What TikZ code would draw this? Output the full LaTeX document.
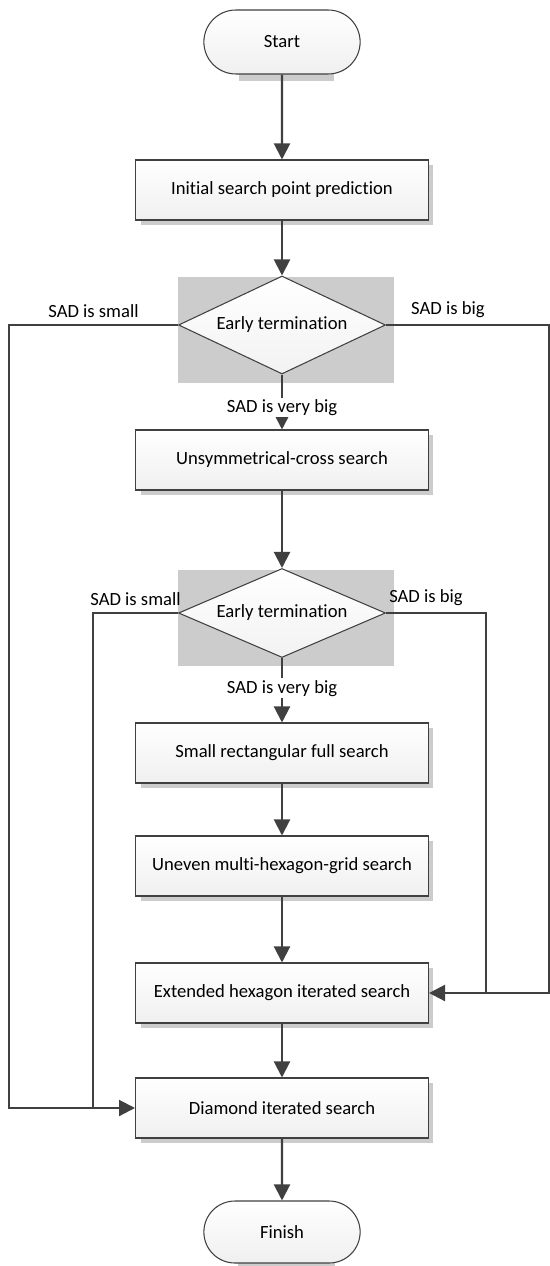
\documentclass[tikz,border=0pt]{standalone}
\usepackage{fontspec}
\setmainfont{Carlito}[Ligatures=NoCommon]
\definecolor{line1}{RGB}{64, 64, 64}
\definecolor{back1}{RGB}{204, 204, 204}
\usepackage{tikz}
\usetikzlibrary{shapes, arrows.meta, positioning, calc, shadows, backgrounds}

\tikzset{
  process/.style={draw=line1, line width=0.6pt, top color=white, bottom color=gray!12,
    minimum width=5.86cm, minimum height=1.2cm, font=\fontsize{10.6}{12}\selectfont,
    drop shadow={fill=back1, shadow xshift=0.1cm, shadow yshift=-0.1cm, opacity=1}},
  terminal/.style={rounded rectangle, draw=line1, line width=0.6pt, top color=white,
    bottom color=gray!12, minimum width=3.36cm, minimum height=1.28cm, font=\fontsize{10.6}{12}\selectfont},
  decision/.style={diamond, aspect=2, inner sep=0pt, draw=line1, line width=0.6pt,
    top color=white, bottom color=gray!10, minimum width=4.14cm, font=\fontsize{10.6}{12}\selectfont},
  flow/.style={draw=line1, line width=1.2pt, -{Triangle[length=0.32cm, width=0.32cm]}},
  branch/.style={draw=line1, line width=1.2pt},
  note/.style={font=\fontsize{10.6}{12}\selectfont, text=black},
  onflow/.style={note, fill=white, inner sep=1pt},
  backdrop/.style={fill=back1}
}

\begin{document}
\begin{tikzpicture}[x=0.02cm, y=-0.02cm]
  \useasboundingbox (0,0) rectangle (550,1266);

  \node[terminal] (start) at (282,42) {Start};
  \node[process] (s1) at (282,190) {Initial search point prediction};
  \node[decision, minimum height=1.96cm] (d1) at (282,325) {Early termination};
  \node[process] (s2) at (282,460) {Unsymmetrical-cross search};
  \node[decision, minimum height=1.78cm] (d2) at (282,613) {Early termination};
  \node[process] (s3) at (282,753) {Small rectangular full search};
  \node[process] (s4) at (282,866) {Uneven multi-hexagon-grid search};
  \node[process] (s5) at (282,993) {Extended hexagon iterated search};
  \node[process] (s6) at (282,1108) {Diamond iterated search};
  \node[terminal, minimum height=1.24cm] (finish) at (282,1232) {Finish};

  \begin{scope}[on background layer]
    \fill[backdrop] ($(start.north west)+(3,3)$) rectangle ($(start.south east)+(6,6)$);
    \fill[backdrop] ($(d1.west |- d1.north)+(0,2)$) rectangle ($(d1.east |- d1.south)+(8,8)$);
    \fill[backdrop] ($(d2.west |- d2.north)+(0,2)$) rectangle ($(d2.east |- d2.south)+(8,8)$);
    \fill[backdrop] ($(finish.north west)+(3,3)$) rectangle ($(finish.south east)+(6,6)$);
  \end{scope}

  \coordinate (l1) at (9,1108);
  \coordinate (l2) at (93,1108);
  \coordinate (r1) at (549,993);
  \coordinate (r2) at (486,993);

  \draw[flow] (start) -- (s1);
  \draw[flow] (s1) -- (d1);
  \draw[flow] (d1) -- node[onflow, pos=0.6] {SAD is very big} (s2);
  \draw[flow] (s2) -- (d2);
  \draw[flow] (d2) -- node[onflow, pos=0.47] {SAD is very big} (s3);
  \draw[flow] (s3) -- (s4);
  \draw[flow] (s4) -- (s5);
  \draw[flow] (s5) -- (s6);
  \draw[flow] (s6) -- (finish);

  \draw[flow] (d1.west) -| node[note, above, pos=0.25] {SAD is small} (l1) -- (s6.west);
  \draw[branch] (d2.west) -| node[note, above, pos=0.25] {SAD is small} (l2);
  \draw[flow] (d1.east) -| node[note, above, pos=0.19] {SAD is big} (r1) -- (s5.east);
  \draw[branch] (d2.east) -| node[note, above, pos=0.2] {SAD is big} (r2);
\end{tikzpicture}
\end{document}
